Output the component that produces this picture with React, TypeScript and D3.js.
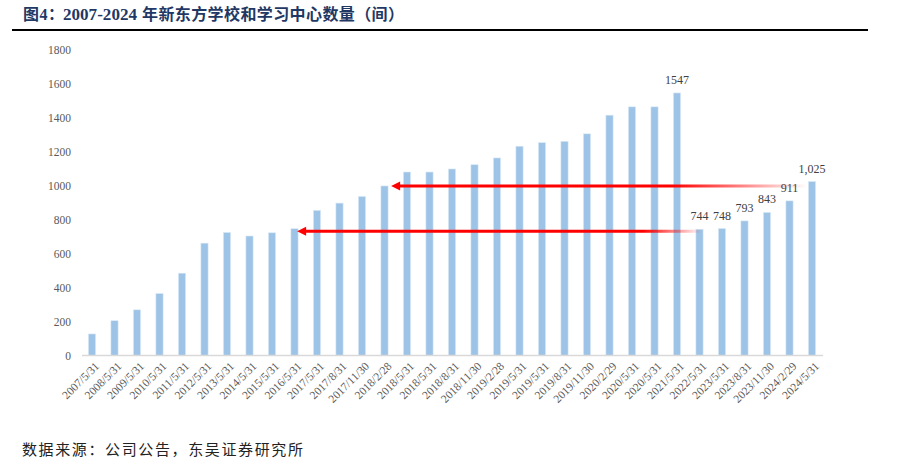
import React from "react";
import * as d3 from "d3";

const categories: string[] = [
  "2007/5/31", "2008/5/31", "2009/5/31", "2010/5/31", "2011/5/31", "2012/5/31",
  "2013/5/31", "2014/5/31", "2015/5/31", "2016/5/31", "2017/5/31", "2017/8/31",
  "2017/11/30", "2018/2/28", "2018/5/31", "2018/5/31", "2018/8/31", "2018/11/30",
  "2019/2/28", "2019/5/31", "2019/5/31", "2019/8/31", "2019/11/30", "2020/2/29",
  "2020/5/31", "2020/5/31", "2021/5/31", "2022/5/31", "2023/5/31", "2023/8/31",
  "2023/11/30", "2024/2/29", "2024/5/31",
];

const values: number[] = [
  127, 205, 269, 365, 485, 662, 725, 704, 723, 747, 855, 898,
  937, 999, 1081, 1081, 1099, 1124, 1164, 1233, 1254, 1262, 1306, 1416,
  1465, 1465, 1547, 744, 748, 793, 843, 911, 1025,
];

const valueLabels: (string | null)[] = categories.map(() => null);
valueLabels[26] = "1547";
valueLabels[27] = "744";
valueLabels[28] = "748";
valueLabels[29] = "793";
valueLabels[30] = "843";
valueLabels[31] = "911";
valueLabels[32] = "1,025";

const yTicks: number[] = [0, 200, 400, 600, 800, 1000, 1200, 1400, 1600, 1800];

// arrows: tip at bar index, horizontal level, fade range in bar-index units
const arrows = [
  { tipIndex: 13, tipGap: 3, level: 999, fadeStartIndex: 25.8, fadeEndIndex: 31.8 },
  { tipIndex: 9, tipGap: -1, level: 732, fadeStartIndex: 24.5, fadeEndIndex: 27.1 },
];

const titleParts = ["图", "4", "：", "2007-2024", "年新东方学校和学习中心数量（间）"];
const source = "数据来源：公司公告，东吴证券研究所";

const W = 899;
const H = 472;
const serif = "'Liberation Serif', 'Times New Roman', serif";
const cjk = "'Noto Sans CJK SC', sans-serif";

export default function App() {
  const idx = categories.map((_, i) => String(i));
  const x = d3.scaleBand<string>().domain(idx).range([80.75, 823.25]).paddingInner(0.68).paddingOuter(0.34);
  const y = d3.scaleLinear().domain([0, 1800]).range([355.5, 50]);
  const cx = (i: number) => (x(String(Math.floor(i))) as number) + x.bandwidth() / 2 + (i - Math.floor(i)) * x.step();

  return (
    <svg width={W} height={H} style={{ position: "absolute", left: 0, top: 0, background: "#fff" }}>
      <defs>
        {arrows.map((a, k) => (
          <linearGradient key={k} id={`fade${k}`} gradientUnits="userSpaceOnUse" x1={cx(a.fadeStartIndex)} x2={cx(a.fadeEndIndex)} y1={0} y2={0}>
            <stop offset="0" stopColor="#ff0000" stopOpacity={1} />
            <stop offset="1" stopColor="#ff0000" stopOpacity={0} />
          </linearGradient>
        ))}
      </defs>

      {/* Title */}
      <g fontSize={16} fontWeight="bold" fill="#1f3864">
        <text x={23} y={20} fontFamily={cjk}>{titleParts[0]}</text>
        <text x={39.5} y={20} fontFamily={serif}>{titleParts[1]}</text>
        <text x={48} y={20} fontFamily={cjk}>{titleParts[2]}</text>
        <text x={63} y={20} fontFamily={serif} textLength={74} lengthAdjust="spacingAndGlyphs">{titleParts[3]}</text>
        <text x={142} y={20} fontFamily={cjk} textLength={262} lengthAdjust="spacing">{titleParts[4]}</text>
      </g>
      <line x1={12} x2={868} y1={30} y2={30} stroke="#000" strokeWidth={2} />

      {/* Y axis labels */}
      {yTicks.map((t) => (
        <text key={t} x={71} y={y(t)} dy="0.35em" textAnchor="end" fontFamily={serif} fontSize={11.5} fill="#595959">
          {t}
        </text>
      ))}

      {/* Bars */}
      {values.map((v, i) => (
        <rect key={i} x={x(String(i))} y={y(v)} width={x.bandwidth()} height={y(0) - y(v)} fill="#9dc3e6" stroke="#dbe9f5" strokeWidth={0.6} />
      ))}

      {/* Axis line */}
      <line x1={82} x2={823} y1={y(0)} y2={y(0)} stroke="#d9d9d9" strokeWidth={1.5} />

      {/* X labels */}
      {categories.map((c, i) => {
        const px = cx(i) + 5;
        const py = 364;
        return (
          <text key={i} x={px} y={py} dy="0.35em" textAnchor="end" transform={`rotate(-45 ${px} ${py})`} fontFamily={serif} fontSize={11.5} fill="#595959">
            {c}
          </text>
        );
      })}

      {/* Arrows */}
      {arrows.map((a, k) => {
        const tipX = cx(a.tipIndex) + x.bandwidth() / 2 + a.tipGap;
        const yy = y(a.level);
        const headLen = 9;
        const headH = 4.5;
        return (
          <g key={k}>
            <line x1={tipX + headLen - 1} x2={cx(a.fadeEndIndex)} y1={yy} y2={yy} stroke={`url(#fade${k})`} strokeWidth={3} />
            <path d={`M${tipX},${yy} L${tipX + headLen},${yy - headH} L${tipX + headLen},${yy + headH} Z`} fill="#ff0000" />
          </g>
        );
      })}

      {/* Value labels */}
      {values.map((v, i) =>
        valueLabels[i] ? (
          <text key={i} x={cx(i)} y={y(v) - 9} textAnchor="middle" fontFamily={serif} fontSize={12} fill="#404040">
            {valueLabels[i]}
          </text>
        ) : null
      )}

      {/* Source */}
      <text x={22} y={455} fontFamily={cjk} fontSize={15} textLength={281} lengthAdjust="spacing" fill="#222">
        {source}
      </text>
    </svg>
  );
}
